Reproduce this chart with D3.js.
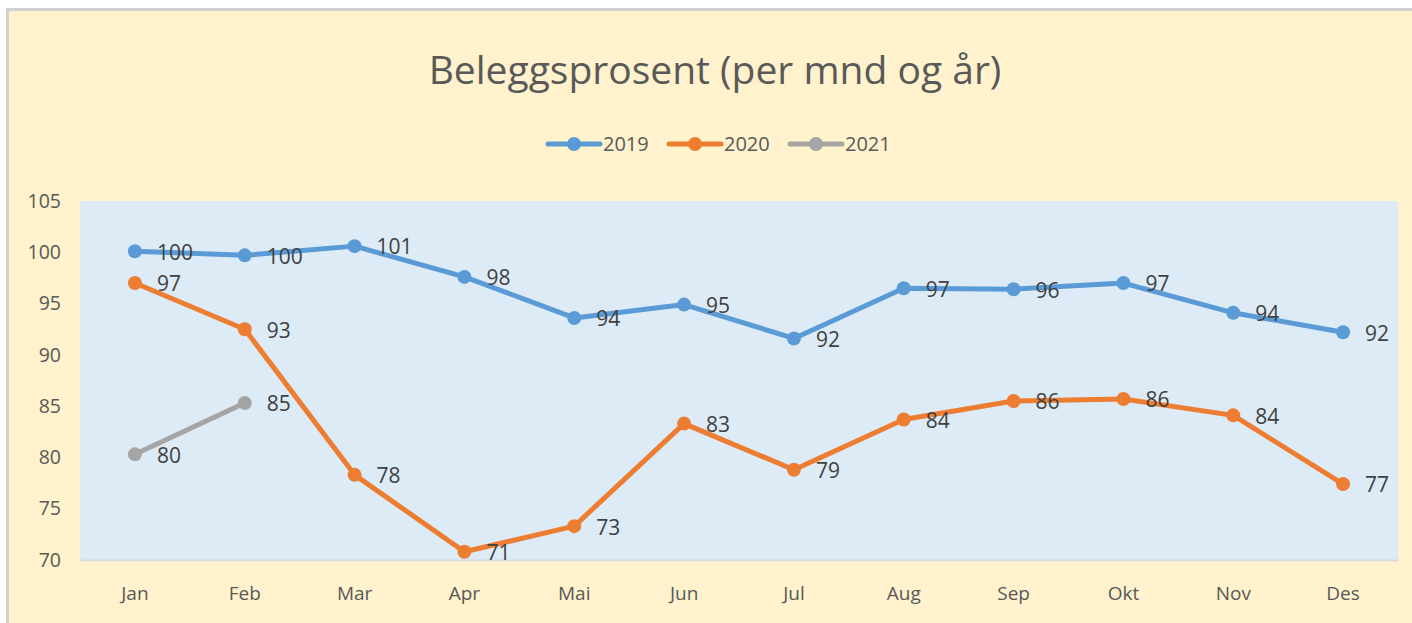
<!DOCTYPE html>
<html>
<head>
<meta charset="utf-8">
<script src="https://cdn.jsdelivr.net/npm/d3@7"></script>
<style>
  body { margin: 0; background: #fff; }
  text { font-family: "Open Sans", "Noto Sans", sans-serif; }
</style>
</head>
<body>
<svg class="chart" width="1412" height="623"></svg>
<script>
const months = ["Jan", "Feb", "Mar", "Apr", "Mai", "Jun", "Jul", "Aug", "Sep", "Okt", "Nov", "Des"];
const years = ["2019", "2020", "2021"];
const values2019 = [100.1, 99.7, 100.6, 97.6, 93.6, 94.9, 91.6, 96.5, 96.4, 97.0, 94.1, 92.2];
const values2020 = [97.0, 92.5, 78.3, 70.8, 73.3, 83.3, 78.8, 83.7, 85.5, 85.7, 84.1, 77.4];
const values2021 = [80.3, 85.3];
const yTicks = [70, 75, 80, 85, 90, 95, 100, 105];
const colors = ["#5B9BD5", "#ED7D31", "#A5A5A5"];

const series = [values2019, values2020, values2021].map((vals, i) => ({
  name: years[i],
  color: colors[i],
  points: vals.map((v, j) => ({ month: months[j], value: v }))
}));

const svg = d3.select(".chart");
const width = +svg.attr("width");
const height = +svg.attr("height");
const margin = { top: 201, right: 14, bottom: 64, left: 80 };

// frame
svg.append("rect").attr("x", 7).attr("y", 8).attr("width", width - 7).attr("height", height - 8)
  .attr("fill", "#FFF2CC");
svg.append("path").attr("d", `M7.5,${height}V9.5H${width}`)
  .attr("fill", "none").attr("stroke", "#D0D0D0").attr("stroke-width", 3);

const x = d3.scaleBand().domain(months).range([margin.left, width - margin.right]);
const y = d3.scaleLinear().domain([70, 105]).range([height - margin.bottom + 1, margin.top]);
const cx = (m) => x(m) + x.bandwidth() / 2;

// plot area
svg.append("rect")
  .attr("x", margin.left).attr("y", y(105))
  .attr("width", width - margin.right - margin.left).attr("height", y(70) - y(105))
  .attr("fill", "#DDEBF7");

// x axis
const xAxis = svg.append("g")
  .attr("transform", `translate(0,${y(70)})`)
  .call(d3.axisBottom(x).tickSize(0).tickPadding(27));
xAxis.select(".domain").attr("stroke", "#D9D9D9").attr("stroke-width", 2);
xAxis.selectAll("text").attr("font-size", 19).attr("fill", "#595959");

// y axis
const yAxis = svg.append("g")
  .attr("transform", `translate(${margin.left},0)`)
  .call(d3.axisLeft(y).tickValues(yTicks).tickSize(0).tickPadding(19));
yAxis.select(".domain").remove();
yAxis.selectAll("text").attr("font-size", 19.5).attr("fill", "#595959");

// title
svg.append("text")
  .attr("x", 715).attr("y", 84)
  .attr("text-anchor", "middle")
  .attr("font-size", 39)
  .attr("fill", "#595959")
  .text("Beleggsprosent (per mnd og år)");

// legend
const legend = svg.append("g").selectAll("g")
  .data(series).enter().append("g")
  .attr("transform", (d, i) => `translate(${548 + i * 121},144)`);
legend.append("line").attr("x1", 0).attr("x2", 52)
  .attr("stroke", (d) => d.color).attr("stroke-width", 5).attr("stroke-linecap", "round");
legend.append("circle").attr("cx", 26).attr("r", 7).attr("fill", (d) => d.color);
legend.append("text").attr("x", 55).attr("dy", "0.35em")
  .attr("font-size", 20).attr("fill", "#595959").text((d) => d.name);

// lines
const line = d3.line().x((d) => cx(d.month)).y((d) => y(d.value));

const g = svg.append("g").selectAll("g").data(series).enter().append("g");
g.append("path")
  .attr("d", (d) => line(d.points))
  .attr("fill", "none")
  .attr("stroke", (d) => d.color)
  .attr("stroke-width", 5)
  .attr("stroke-linejoin", "round");
g.selectAll("circle").data((d) => d.points.map((p) => ({ ...p, color: d.color })))
  .enter().append("circle")
  .attr("cx", (d) => cx(d.month)).attr("cy", (d) => y(d.value))
  .attr("r", 7).attr("fill", (d) => d.color);
g.selectAll("text").data((d) => d.points)
  .enter().append("text")
  .attr("x", (d) => cx(d.month) + 22).attr("y", (d) => y(d.value) + 1)
  .attr("dy", "0.35em")
  .attr("font-size", 21).attr("fill", "#404040")
  .text((d) => Math.round(d.value));
</script>
</body>
</html>
